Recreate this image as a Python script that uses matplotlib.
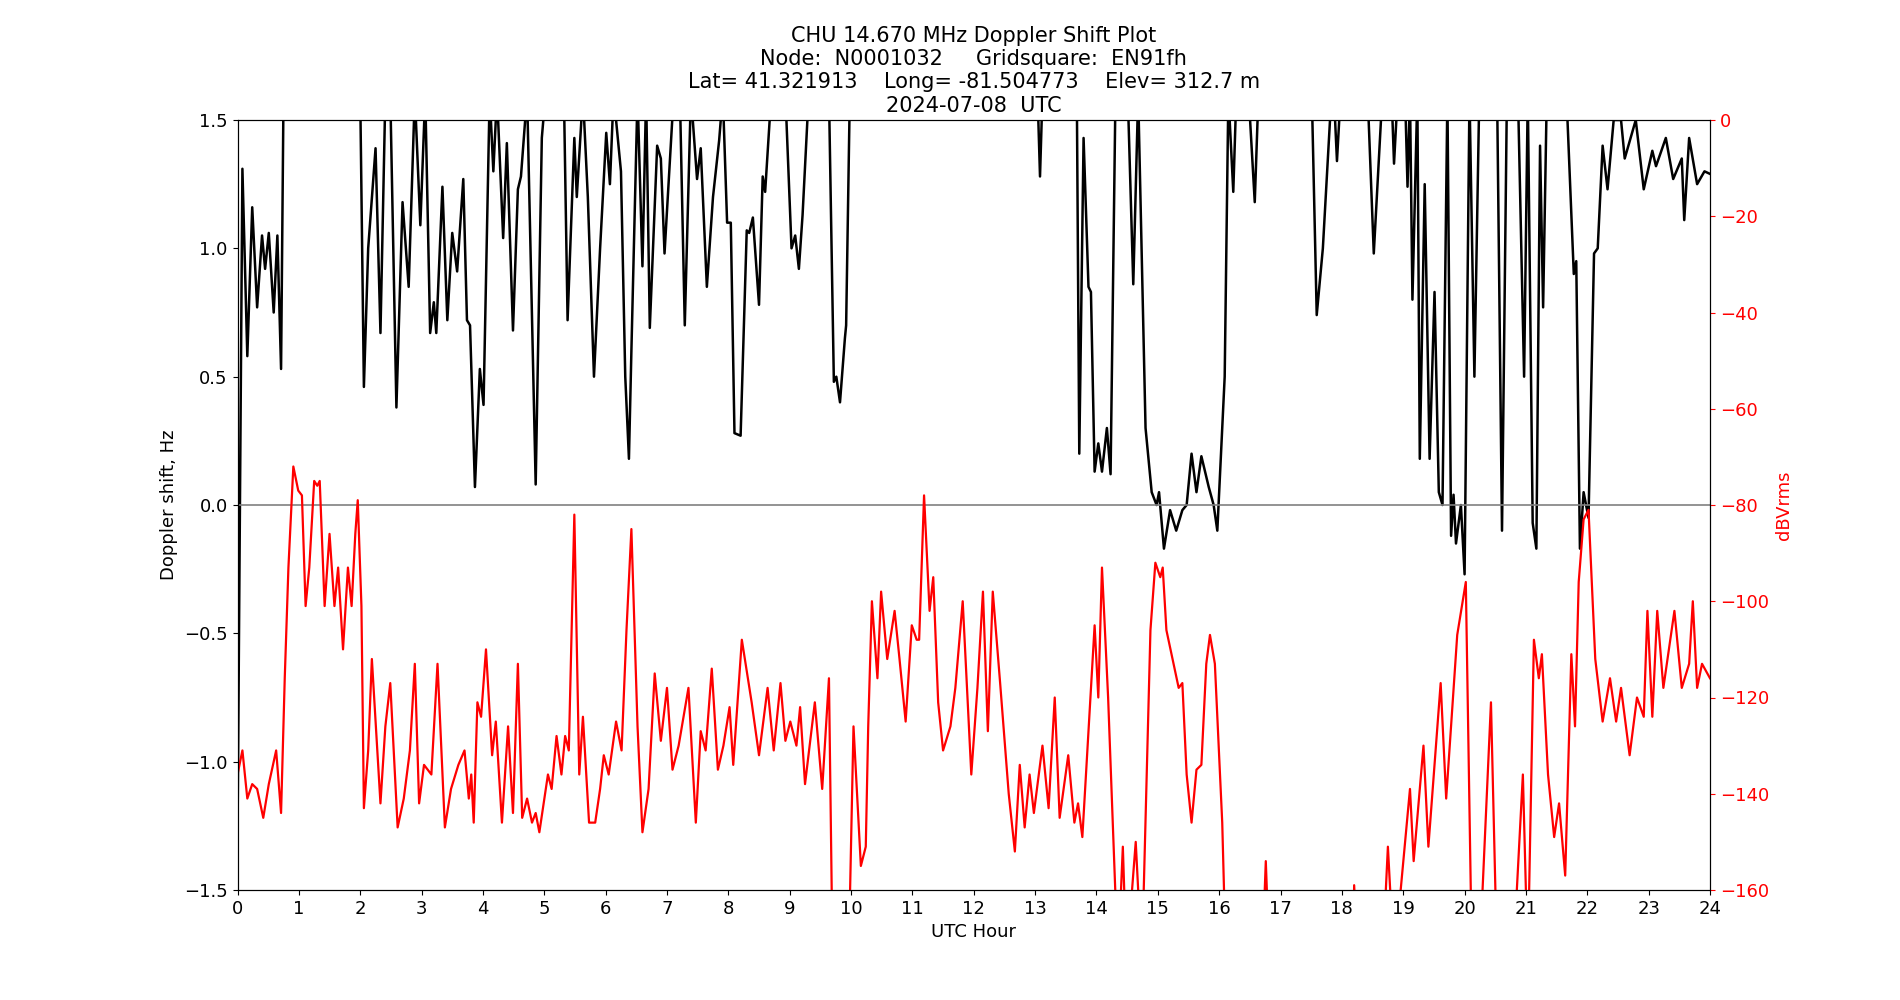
import matplotlib
matplotlib.use("Agg")
import matplotlib.pyplot as plt

# Doppler shift (Hz) series
dop_t = [0,0.08,0.16,0.24,0.32,0.40,0.45,0.51,0.59,0.65,0.71,0.75,2.0,2.06,2.13,2.25,2.33,2.41,2.49,2.59,2.69,2.79,2.89,2.98,3.06,3.14,3.20,3.24,3.34,3.42,3.50,3.58,3.68,3.74,3.79,3.87,3.95,4.01,4.11,4.17,4.23,4.33,4.39,4.49,4.57,4.62,4.72,4.86,4.96,5.02,5.32,5.38,5.49,5.53,5.63,5.71,5.81,5.91,6.01,6.07,6.13,6.25,6.32,6.38,6.42,6.52,6.60,6.66,6.72,6.84,6.90,6.96,7.11,7.21,7.29,7.39,7.49,7.55,7.65,7.75,7.85,7.91,7.98,8.04,8.10,8.20,8.30,8.34,8.40,8.50,8.56,8.60,8.70,8.93,9.03,9.09,9.15,9.21,9.31,9.64,9.72,9.76,9.82,9.90,9.92,9.98,13.04,13.08,13.12,13.68,13.72,13.79,13.87,13.91,13.97,14.03,14.09,14.17,14.23,14.31,14.51,14.60,14.68,14.80,14.90,14.98,15.02,15.10,15.20,15.30,15.40,15.47,15.55,15.63,15.71,15.83,15.91,15.97,16.09,16.15,16.23,16.28,16.48,16.58,16.64,17.51,17.59,17.69,17.83,17.87,17.92,17.98,18.42,18.52,18.66,18.81,18.85,18.91,19.03,19.07,19.11,19.15,19.23,19.27,19.35,19.43,19.51,19.58,19.64,19.72,19.78,19.82,19.86,19.94,20.00,20.08,20.16,20.24,20.53,20.61,20.69,20.87,20.97,21.03,21.11,21.17,21.23,21.28,21.34,21.66,21.78,21.82,21.88,21.94,22.02,22.11,22.17,22.25,22.33,22.43,22.55,22.61,22.79,22.92,23.06,23.12,23.28,23.40,23.54,23.58,23.66,23.79,23.91,24.0]
dop_hz = [-1.3,1.31,0.58,1.16,0.77,1.05,0.92,1.06,0.75,1.05,0.53,1.6,1.6,0.46,1.0,1.39,0.67,1.6,1.6,0.38,1.18,0.85,1.6,1.09,1.6,0.67,0.79,0.67,1.24,0.72,1.06,0.91,1.27,0.72,0.70,0.07,0.53,0.39,1.6,1.3,1.6,1.04,1.41,0.68,1.23,1.28,1.6,0.08,1.43,1.6,1.6,0.72,1.43,1.2,1.6,1.2,0.5,1.0,1.45,1.25,1.6,1.3,0.5,0.18,0.6,1.6,0.93,1.6,0.69,1.4,1.35,0.98,1.6,1.6,0.7,1.6,1.27,1.39,0.85,1.2,1.42,1.6,1.1,1.1,0.28,0.27,1.07,1.06,1.12,0.78,1.28,1.22,1.6,1.6,1.0,1.05,0.92,1.13,1.6,1.6,0.48,0.5,0.4,0.65,0.70,1.6,1.6,1.28,1.6,1.6,0.2,1.43,0.85,0.83,0.13,0.24,0.13,0.3,0.12,1.6,1.6,0.86,1.6,0.3,0.05,0.0,0.05,-0.17,-0.02,-0.1,-0.02,0.0,0.2,0.05,0.19,0.07,0.0,-0.1,0.5,1.6,1.22,1.6,1.6,1.18,1.6,1.6,0.74,1.0,1.6,1.6,1.34,1.6,1.6,0.98,1.6,1.6,1.33,1.6,1.6,1.24,1.6,0.8,1.6,0.18,1.25,0.18,0.83,0.05,0.0,1.6,-0.12,0.04,-0.15,0.0,-0.27,1.6,0.5,1.6,1.6,-0.1,1.6,1.6,0.5,1.6,-0.07,-0.17,1.4,0.77,1.6,1.6,0.9,0.95,-0.17,0.05,-0.05,0.98,1.0,1.4,1.23,1.5,1.5,1.35,1.5,1.23,1.38,1.32,1.43,1.27,1.35,1.11,1.43,1.25,1.30,1.29]

# Signal level (dBVrms) series
lvl_t = [0,0.08,0.16,0.24,0.32,0.42,0.51,0.63,0.71,0.77,0.83,0.91,0.99,1.05,1.11,1.17,1.25,1.30,1.34,1.42,1.50,1.58,1.64,1.72,1.80,1.86,1.92,1.96,2.02,2.06,2.13,2.19,2.27,2.33,2.41,2.49,2.61,2.71,2.81,2.89,2.96,3.04,3.16,3.26,3.38,3.48,3.60,3.70,3.77,3.81,3.85,3.91,3.97,4.05,4.15,4.21,4.31,4.41,4.49,4.57,4.64,4.72,4.80,4.86,4.92,5.06,5.12,5.20,5.28,5.34,5.40,5.49,5.57,5.63,5.73,5.83,5.91,5.97,6.05,6.17,6.26,6.34,6.42,6.52,6.60,6.70,6.80,6.90,7.00,7.09,7.19,7.35,7.47,7.55,7.63,7.73,7.83,7.92,8.02,8.08,8.22,8.38,8.50,8.64,8.74,8.85,8.93,9.01,9.11,9.17,9.25,9.41,9.53,9.64,9.70,9.96,10.04,10.16,10.24,10.28,10.34,10.43,10.49,10.59,10.71,10.79,10.89,10.99,11.07,11.11,11.19,11.28,11.34,11.42,11.50,11.62,11.70,11.82,11.96,12.06,12.15,12.23,12.31,12.43,12.57,12.67,12.75,12.83,12.91,12.98,13.12,13.22,13.32,13.40,13.54,13.64,13.70,13.77,13.97,14.03,14.09,14.19,14.35,14.43,14.49,14.64,14.74,14.88,14.96,15.04,15.08,15.14,15.24,15.34,15.40,15.47,15.55,15.63,15.71,15.79,15.85,15.93,16.05,16.11,16.70,16.76,16.82,18.18,18.20,18.26,18.66,18.75,18.85,19.11,19.17,19.33,19.41,19.61,19.70,19.88,20.02,20.12,20.24,20.43,20.53,20.79,20.95,21.03,21.13,21.21,21.26,21.36,21.46,21.54,21.64,21.74,21.80,21.86,21.94,22.02,22.13,22.25,22.37,22.47,22.55,22.69,22.81,22.92,22.98,23.06,23.14,23.24,23.42,23.54,23.66,23.72,23.79,23.87,24.0]
lvl_db = [-136,-131,-141,-138,-139,-145,-138,-131,-144,-116,-93,-72,-77,-78,-101,-93,-75,-76,-75,-101,-86,-101,-93,-110,-93,-101,-86,-79,-101,-143,-131,-112,-129,-142,-126,-117,-147,-141,-131,-113,-142,-134,-136,-113,-147,-139,-134,-131,-141,-136,-146,-121,-124,-110,-132,-125,-146,-126,-144,-113,-145,-141,-146,-144,-148,-136,-139,-128,-136,-128,-131,-82,-136,-124,-146,-146,-139,-132,-136,-125,-131,-106,-85,-126,-148,-139,-115,-129,-118,-135,-130,-118,-146,-127,-131,-114,-135,-130,-122,-134,-108,-121,-132,-118,-131,-117,-129,-125,-130,-122,-138,-121,-139,-116,-175,-175,-126,-155,-151,-126,-100,-116,-98,-112,-102,-112,-125,-105,-108,-108,-78,-102,-95,-121,-131,-126,-118,-100,-136,-118,-98,-127,-98,-117,-140,-152,-134,-147,-136,-144,-130,-143,-120,-145,-132,-146,-142,-149,-105,-120,-93,-120,-175,-151,-175,-150,-175,-106,-92,-95,-93,-106,-112,-118,-117,-136,-146,-135,-134,-113,-107,-113,-146,-175,-175,-154,-175,-175,-159,-175,-175,-151,-175,-139,-154,-130,-151,-117,-141,-107,-96,-175,-175,-121,-175,-175,-136,-175,-108,-116,-111,-136,-149,-142,-157,-111,-126,-96,-83,-81,-112,-125,-116,-125,-118,-132,-120,-124,-102,-124,-102,-118,-102,-118,-113,-100,-118,-113,-116]

x_ticks = list(range(0, 25))

fig, ax = plt.subplots(figsize=(19, 10), dpi=100)
ax.plot(dop_t, dop_hz, color='black', lw=1.8)
ax.axhline(0, color='grey', lw=1.2)
ax.set_xlim(0, 24)
ax.set_ylim(-1.5, 1.5)
ax.set_xticks(x_ticks)
ax.tick_params(labelsize=13)
ax.set_xlabel('UTC Hour', fontsize=13)
ax.set_ylabel('Doppler shift, Hz', fontsize=13)
ax.set_title('CHU 14.670 MHz Doppler Shift Plot\nNode:  N0001032     Gridsquare:  EN91fh\n'
             'Lat= 41.321913    Long= -81.504773    Elev= 312.7 m\n2024-07-08  UTC', fontsize=15)

ax2 = ax.twinx()
ax2.plot(lvl_t, lvl_db, color='red', lw=1.6)
ax2.set_ylim(-160, 0)
ax2.set_ylabel('dBVrms', color='red', fontsize=13)
ax2.tick_params(axis='y', colors='red', labelsize=13)

fig.savefig('out.png')
